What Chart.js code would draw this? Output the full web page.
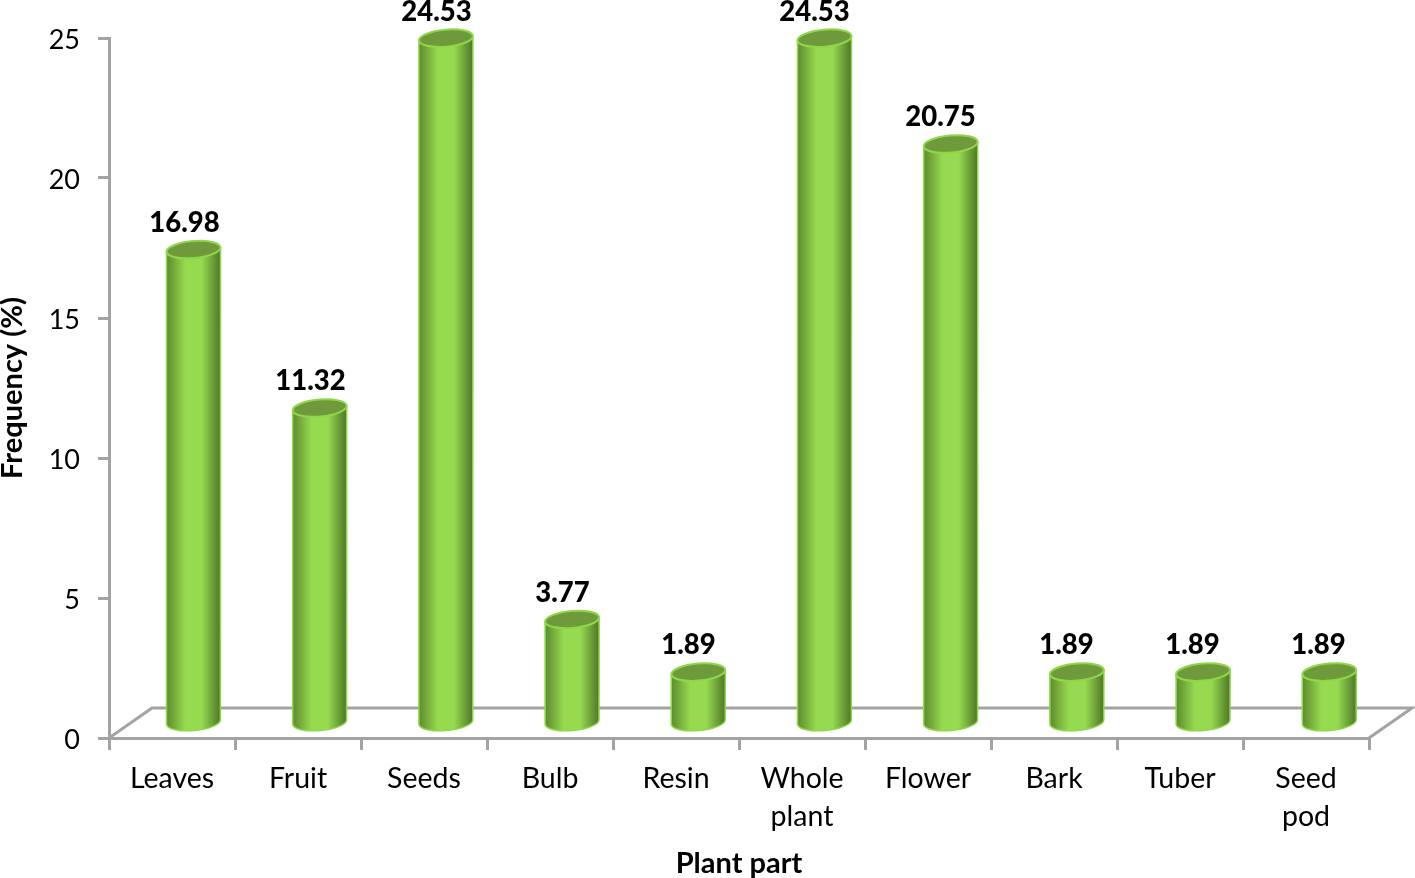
<!DOCTYPE html>
<html>
<head>
<meta charset="utf-8">
<title>Plant part frequency</title>
<script src="https://cdn.jsdelivr.net/npm/chart.js@4/dist/chart.umd.js"></script>
<style>
  html, body { margin: 0; padding: 0; background: #fff; }
  canvas { display: block; }
</style>
</head>
<body>
<canvas id="chart" width="1415" height="878"></canvas>
<script>
const categories = ["Leaves", "Fruit", "Seeds", "Bulb", "Resin", ["Whole", "plant"], "Flower", "Bark", "Tuber", ["Seed", "pod"]];
const frequency = [16.98, 11.32, 24.53, 3.77, 1.89, 24.53, 20.75, 1.89, 1.89, 1.89];

const AXIS_COLOR = "#a3a3a3";
const FONT = "Lato, Carlito, sans-serif";
// depth of the fake 3d floor, and where the cylinders sit on it
const DEPTH_X = 43;
const DEPTH_Y = 30;
const BAR_SHIFT_X = 21.5;
const BAR_DRIFT_X = 0.2;
const TOP_SHIFT_Y = 13;
const BASE_SHIFT_Y = 14.5;
const RY = 8.5;
const TILT = -5 * Math.PI / 180;

const floorPlugin = {
  id: "floor",
  // chart.js centres the y labels a bit high for this font, nudge them down
  beforeDraw(chart) {
    chart.scales.y.getLabelItems().forEach((item) => {
      item.options.translation[1] += 2;
    });
  },
  beforeDatasetsDraw(chart) {
    const {ctx, chartArea: {left, right, bottom}} = chart;
    ctx.save();
    ctx.strokeStyle = AXIS_COLOR;
    ctx.lineWidth = 3;
    ctx.beginPath();
    ctx.moveTo(left, bottom);
    ctx.lineTo(left + DEPTH_X, bottom - DEPTH_Y);
    ctx.lineTo(right + DEPTH_X, bottom - DEPTH_Y);
    ctx.lineTo(right, bottom);
    ctx.stroke();
    ctx.restore();
  }
};

const cylinderPlugin = {
  id: "cylinder",
  afterDatasetsDraw(chart) {
    const {ctx} = chart;
    const meta = chart.getDatasetMeta(0);
    meta.data.forEach((bar, i) => {
      const cx = bar.x + BAR_SHIFT_X + i * BAR_DRIFT_X;
      const top = bar.y - TOP_SHIFT_Y;
      const base = bar.base - BASE_SHIFT_Y;
      const rx = bar.width / 2;
      const dy = rx * Math.sin(TILT);

      const grad = ctx.createLinearGradient(cx - rx, 0, cx + rx, 0);
      grad.addColorStop(0, "#5b8c2e");
      grad.addColorStop(0.12, "#72a539");
      grad.addColorStop(0.35, "#96da50");
      grad.addColorStop(0.65, "#96da50");
      grad.addColorStop(0.88, "#679835");
      grad.addColorStop(1, "#4c7926");

      ctx.save();
      ctx.beginPath();
      ctx.moveTo(cx - rx, top - dy);
      ctx.lineTo(cx - rx, base - dy);
      ctx.ellipse(cx, base, rx, RY, TILT, Math.PI, 0, true);
      ctx.lineTo(cx + rx, top + dy);
      ctx.ellipse(cx, top, rx, RY, TILT, 0, Math.PI, false);
      ctx.closePath();
      ctx.fillStyle = grad;
      ctx.fill();
      ctx.strokeStyle = "#8fd64a";
      ctx.lineWidth = 1.5;
      ctx.stroke();

      ctx.beginPath();
      ctx.ellipse(cx, top, rx, RY, TILT, 0, Math.PI * 2);
      ctx.fillStyle = "#6f9a3b";
      ctx.fill();
      ctx.strokeStyle = "#8fd64a";
      ctx.lineWidth = 2;
      ctx.stroke();

      ctx.fillStyle = "#000";
      ctx.font = "900 27.5px " + FONT;
      ctx.textAlign = "center";
      ctx.textBaseline = "middle";
      ctx.fillText(frequency[i].toFixed(2), bar.x + 12.5, bar.y - 39.5);
      ctx.restore();
    });
  }
};

new Chart(document.getElementById("chart"), {
  type: "bar",
  data: {
    labels: categories,
    datasets: [{
      data: frequency,
      backgroundColor: "transparent",
      barPercentage: 54 / 126,
      categoryPercentage: 1
    }]
  },
  plugins: [floorPlugin, cylinderPlugin],
  options: {
    responsive: false,
    animation: false,
    layout: {padding: {top: 38, right: 46, left: 0, bottom: 0}},
    plugins: {legend: {display: false}, tooltip: {enabled: false}},
    scales: {
      x: {
        offset: true,
        afterFit(scale) { scale.height = 140; },
        border: {color: AXIS_COLOR, width: 3},
        grid: {offset: true, drawOnChartArea: false, color: AXIS_COLOR, lineWidth: 3, tickLength: 12},
        ticks: {color: "#000", font: {family: FONT, size: 28.5, lineHeight: 1.33}, padding: 10, maxRotation: 0, autoSkip: false},
        title: {display: true, text: "Plant part", color: "#000", font: {family: FONT, size: 29, weight: "bold", lineHeight: 1}, padding: {top: 0, bottom: 0}}
      },
      y: {
        min: 0,
        max: 25,
        afterFit(scale) { scale.width = 109; },
        border: {color: AXIS_COLOR, width: 3},
        grid: {drawOnChartArea: false, color: AXIS_COLOR, lineWidth: 3, tickLength: 11},
        ticks: {stepSize: 5, color: "#000", font: {family: FONT, size: 27}, padding: 18},
        title: {display: true, text: "Frequency (%)", color: "#000", font: {family: FONT, size: 29, weight: "bold", lineHeight: 0.85}, padding: {top: 0, bottom: 0}}
      }
    }
  }
});
</script>
</body>
</html>
